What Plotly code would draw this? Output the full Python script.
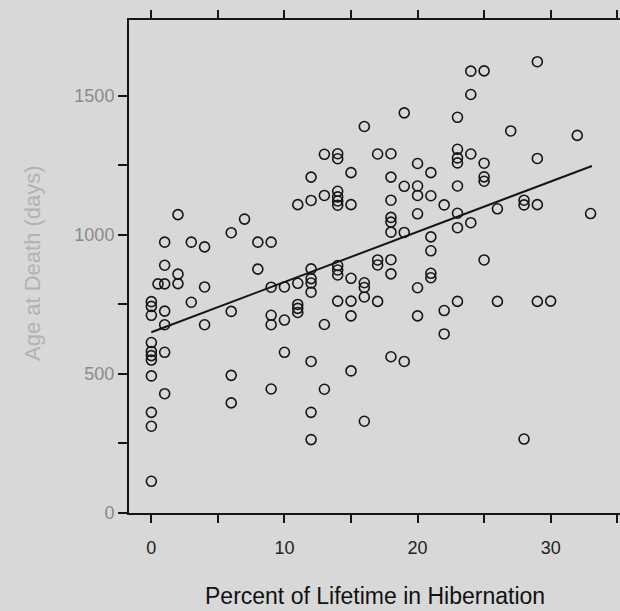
import plotly.graph_objects as go

# Percent of lifetime in hibernation (x) and age at death in days (y)
pct_hibernation = (
    [0] * 11 + [0.5] + [1] * 7 + [2] * 3 + [3] * 2 + [4] * 3 + [6] * 4 + [7] + [8] * 2
    + [9] * 5 + [10] * 3 + [11] * 5 + [12] * 9 + [13] * 4 + [14] * 10 + [15] * 6
    + [16] * 5 + [17] * 4 + [18] * 9 + [19] * 4 + [20] * 6 + [21] * 6 + [22] * 3
    + [23] * 8 + [24] * 4 + [25] * 5 + [26] * 2 + [27] + [28] * 3 + [29] * 4 + [30] + [32] + [33]
)
age_at_death = [
    760, 743, 711, 613, 581, 566, 550, 493, 362, 312, 114,   # 0
    824,                                                     # 0.5
    824, 974, 891, 726, 677, 578, 429,                       # 1
    1073, 859, 825,                                          # 2
    974, 758,                                                # 3
    957, 813, 677,                                           # 4
    1008, 725, 495, 396,                                     # 6
    1057,                                                    # 7
    974, 877,                                                # 8
    974, 812, 711, 677, 446,                                 # 9
    813, 694, 578,                                           # 10
    826, 1109, 750, 736, 721,                                # 11
    878, 843, 827, 794, 1208, 1124, 545, 362, 264,           # 12
    678, 445, 1142, 1290,                                    # 13
    1292, 1274, 1157, 1137, 1122, 1107, 890, 874, 856, 762,  # 14
    1224, 1109, 844, 762, 709, 511,                          # 15
    330, 828, 811, 777, 1390,                                # 16
    910, 892, 761, 1291,                                     # 17
    1292, 1208, 1125, 1063, 1046, 1010, 911, 860, 562,       # 18
    545, 1009, 1175, 1439,                                   # 19
    810, 709, 1076, 1176, 1142, 1257,                        # 20
    993, 943, 862, 846, 1141, 1224,                          # 21
    728, 644, 1108,                                          # 22
    761, 1026, 1078, 1176, 1308, 1277, 1259, 1423,           # 23
    1044, 1291, 1505, 1589,                                  # 24
    1590, 1258, 1209, 1193, 910,                             # 25
    761, 1094,                                               # 26
    1374,                                                    # 27
    266, 1125, 1108,                                         # 28
    761, 1109, 1275, 1623,                                   # 29
    762,                                                     # 30
    1358,                                                    # 32
    1077,                                                    # 33
]

# Fitted regression line end points
fit_pct = [0, 33.1]
fit_age = [650, 1248]

# Tick positions (major labelled, minor unlabelled)
x_tickvals = [0, 5, 10, 15, 20, 25, 30, 35]
x_ticktext = ["0", "", "10", "", "20", "", "30", ""]
y_tickvals = [0, 250, 500, 750, 1000, 1250, 1500]
y_ticktext = ["0", "", "500", "", "1000", "", "1500"]

x_title = "Percent of Lifetime in Hibernation"
y_title = "Age at Death (days)"

BG = "#d8d8d8"
INK = "#151515"
X_RANGE = [-1.68, 35.21]
Y_RANGE = [0, 1773]

fig = go.Figure()
fig.add_trace(go.Scatter(
    x=fit_pct, y=fit_age, mode="lines",
    line=dict(color=INK, width=2), hoverinfo="skip", showlegend=False,
))
fig.add_trace(go.Scatter(
    x=pct_hibernation, y=age_at_death, mode="markers",
    marker=dict(symbol="circle-open", size=10, color=INK, line=dict(width=1.6, color=INK)),
    showlegend=False,
))

fig.update_layout(
    width=620, height=611,
    margin=dict(l=129, r=0, t=20, b=98),
    paper_bgcolor=BG, plot_bgcolor=BG,
    font=dict(family="Liberation Sans, Arial, sans-serif", color=INK),
    showlegend=False,
    xaxis=dict(
        range=X_RANGE, tickmode="array", tickvals=x_tickvals, ticktext=x_ticktext,
        ticks="outside", ticklen=8, tickwidth=1.5, tickcolor=INK,
        showline=True, linecolor=INK, linewidth=2, mirror="ticks",
        showgrid=False, zeroline=False,
        tickfont=dict(size=18, color="#222222"), ticklabelstandoff=9,
    ),
    yaxis=dict(
        range=Y_RANGE, tickmode="array", tickvals=y_tickvals, ticktext=y_ticktext,
        ticks="outside", ticklen=9, tickwidth=1.5, tickcolor=INK,
        showline=True, linecolor=INK, linewidth=2, mirror=False,
        showgrid=False, zeroline=False,
        tickfont=dict(size=18, color="#8a8a8a"),
    ),
)

fig.add_annotation(
    text=x_title, xref="paper", yref="paper", x=0.5, y=-0.168,
    xanchor="center", yanchor="middle", showarrow=False,
    font=dict(size=23, color="#111111"),
)
fig.add_annotation(
    text=y_title, xref="paper", yref="paper", x=(32 - 129) / 491, y=(513 - 263) / 493,
    xanchor="center", yanchor="middle", showarrow=False, textangle=-90,
    font=dict(size=22, color="#b2b2b2"),
)

fig.write_html("out.html")
